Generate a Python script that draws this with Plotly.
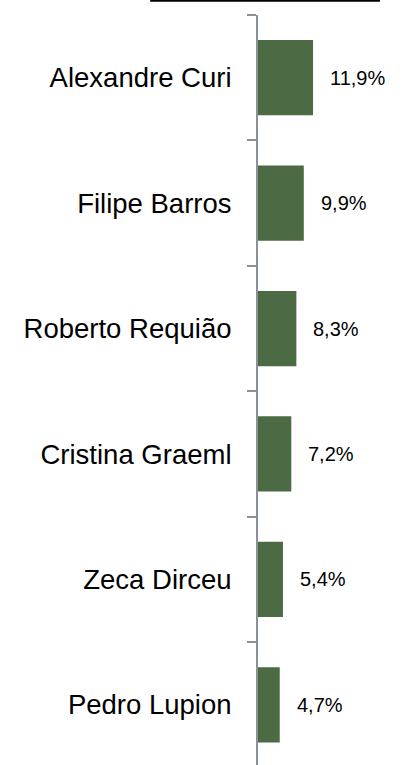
import plotly.graph_objects as go

# Data
candidates = ["Alexandre Curi", "Filipe Barros", "Roberto Requião",
              "Cristina Graeml", "Zeca Dirceu", "Pedro Lupion"]
values = [11.9, 9.9, 8.3, 7.2, 5.4, 4.7]
value_labels = [f"{v:.1f}".replace(".", ",") + "%" for v in values]

BAR_COLOR = "#4c6a44"
AXIS_COLOR = "#8a9199"
FONT = "Arial, Liberation Sans, sans-serif"

fig = go.Figure()
fig.add_trace(go.Bar(
    x=values, y=candidates, orientation="h",
    marker=dict(color=BAR_COLOR, line=dict(width=0)),
    hoverinfo="skip",
))

for c, v, t in zip(candidates, values, value_labels):
    fig.add_annotation(x=v, y=c, text=t, showarrow=False,
                       xanchor="left", yanchor="middle", xshift=15,
                       font=dict(family=FONT, size=20, color="#000000"))

# Top border line (bottom of a title box, cropped)
fig.add_shape(type="line", xref="paper", yref="paper",
              x0=-0.70, x1=0.792, y0=1.019, y1=1.019,
              line=dict(color="#000000", width=2))

fig.update_layout(
    width=412, height=765,
    margin=dict(l=258, r=0, t=15, b=0),
    paper_bgcolor="white", plot_bgcolor="white",
    bargap=0.4, showlegend=False,
    font=dict(family=FONT, size=20, color="#000000"),
)
fig.update_xaxes(range=[0, 33.3], visible=False, showgrid=False, zeroline=False)
fig.update_yaxes(
    categoryorder="array", categoryarray=candidates,
    range=[5.48, -0.5],
    showline=True, linecolor=AXIS_COLOR, linewidth=2,
    ticks="outside", tickson="boundaries", ticklen=9,
    tickcolor=AXIS_COLOR, tickwidth=2,
    ticklabelstandoff=19,
    showgrid=False, zeroline=False,
    tickfont=dict(family=FONT, size=27.5, color="#000000"),
)

fig.write_html("out.html",
               config={"displayModeBar": False, "staticPlot": True},
               post_script="document.body.style.margin='0';document.body.style.overflow='hidden';")
